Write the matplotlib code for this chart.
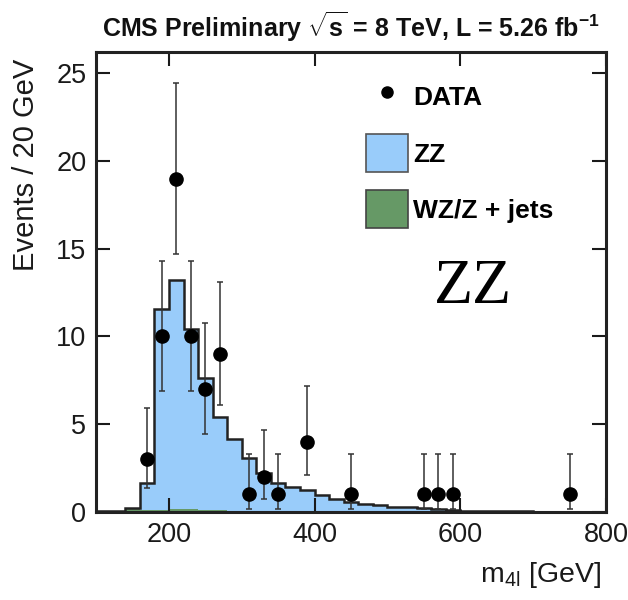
"""
CMS ZZ -> 4l invariant mass distribution (8 TeV, 5.26 fb^-1).
Stacked MC histogram with data points and Poisson error bars.
"""

import numpy as np
import matplotlib
matplotlib.use('Agg')  # Non-interactive backend
import matplotlib.pyplot as plt
from matplotlib.patches import Patch
from matplotlib.lines import Line2D

# Bin edges, 20 GeV wide
bin_edges = np.arange(100, 820, 20)

# Expected ZZ events per bin
zz_counts = [0.02, 0.03, 0.05, 1.55, 11.45, 13.05, 10.25, 7.5, 5.3, 4.1,
             3.0, 2.15, 1.6, 1.4, 1.2, 0.92, 0.7, 0.55, 0.45, 0.36,
             0.29, 0.24, 0.19, 0.15, 0.11, 0.06, 0.05, 0.04, 0.02, 0.02,
             0.01, 0.01, 0.01, 0.01, 0.01]

# Expected WZ/Z + jets events per bin (very small)
wz_counts = [0.01, 0.02, 0.15, 0.12, 0.12, 0.15, 0.15, 0.12, 0.08, 0.06,
             0.05, 0.04, 0.03, 0.03, 0.02, 0.02, 0.02, 0.01, 0.01, 0.01,
             0.01, 0.01, 0.01, 0.01, 0.01, 0.0, 0.0, 0.0, 0.0, 0.0,
             0.0, 0.0, 0.0, 0.0, 0.0]

# Observed data (bin centres with non-zero counts)
data_mass = [170, 190, 210, 230, 250, 270, 310, 330, 350, 390, 450, 550, 570, 590, 750]
data_counts = [3, 10, 19, 10, 7, 9, 1, 2, 1, 4, 1, 1, 1, 1, 1]
data_err_lo = [1.63, 3.11, 4.32, 3.11, 2.58, 2.94, 0.83, 1.29, 0.83, 1.91, 0.83, 0.83, 0.83, 0.83, 0.83]
data_err_hi = [2.92, 4.27, 5.44, 4.27, 3.77, 4.11, 2.30, 2.64, 2.30, 3.16, 2.30, 2.30, 2.30, 2.30, 2.30]

x_ticks = [200, 400, 600, 800]
y_ticks = [0, 5, 10, 15, 20, 25]

ZZ_COLOR = '#99ccfa'
WZ_COLOR = '#669966'


def main():
    plt.rcParams['font.family'] = ['Liberation Sans', 'DejaVu Sans']
    plt.rcParams['mathtext.fontset'] = 'custom'
    plt.rcParams['mathtext.rm'] = 'Liberation Sans'
    plt.rcParams['mathtext.it'] = 'Liberation Sans'
    plt.rcParams['mathtext.bf'] = 'Liberation Sans:bold'

    fig = plt.figure(figsize=(6.28, 6.0), dpi=100)
    ax = fig.add_axes([0.153, 0.147, 0.812, 0.766])

    wz = np.array(wz_counts)
    total = wz + np.array(zz_counts)

    # Stacked histogram: WZ/Z+jets at the bottom, ZZ on top
    ax.stairs(wz, bin_edges, fill=True, color=WZ_COLOR, zorder=1)
    ax.stairs(total, bin_edges, baseline=wz, fill=True, color=ZZ_COLOR, zorder=1)
    ax.stairs(total, bin_edges, color='#222222', lw=1.8, zorder=2)

    # Data with asymmetric Poisson errors
    ax.errorbar(data_mass, data_counts, yerr=[data_err_lo, data_err_hi],
                fmt='o', color='black', ms=9.5, ecolor='#333333',
                elinewidth=1.1, capsize=2.5, capthick=1.1, zorder=3)

    ax.set_xlim(100, 800)
    ax.set_ylim(0, 26.2)
    ax.set_xticks(x_ticks)
    ax.set_yticks(y_ticks)
    ax.tick_params(direction='in', length=10, width=1.5, labelsize=19.5,
                   top=True, right=True, pad=7, colors='#1a1a1a')
    for spine in ax.spines.values():
        spine.set_linewidth(2.2)
        spine.set_color('#222222')

    ax.set_ylabel('Events / 20 GeV', fontsize=21, loc='top', color='#1a1a1a')
    ax.yaxis.set_label_coords(-0.11, 0.985)
    ax.set_xlabel(r'm$_{\mathrm{4l}}$ [GeV]', fontsize=20.5, loc='right', color='#1a1a1a')
    ax.xaxis.set_label_coords(0.99, -0.105)

    ax.set_title(r'CMS Preliminary $\sqrt{\mathbf{s}}$ = 8 TeV, L = 5.26 fb$^{\mathbf{-1}}$',
                 fontsize=18, fontweight='bold', pad=11, color='#111111')

    # Legend
    handles = [
        Line2D([], [], marker='o', ls='none', color='black', ms=8),
        Patch(facecolor=ZZ_COLOR, edgecolor='#555555', lw=1.2),
        Patch(facecolor=WZ_COLOR, edgecolor='#444444', lw=1.2),
    ]
    labels = ['DATA', 'ZZ', 'WZ/Z + jets']
    ax.legend(handles, labels, loc='upper left', bbox_to_anchor=(0.482, 0.996),
              frameon=False, handlelength=1.6, handleheight=1.85,
              handletextpad=0.2, labelspacing=0.68,
              prop={'weight': 'bold', 'size': 19})

    ax.text(0.74, 0.488, 'ZZ', transform=ax.transAxes, fontsize=46,
            family='Liberation Serif', ha='center', va='center', color='black')

    fig.savefig('out.png', dpi=100)
    plt.close(fig)


if __name__ == '__main__':
    main()
